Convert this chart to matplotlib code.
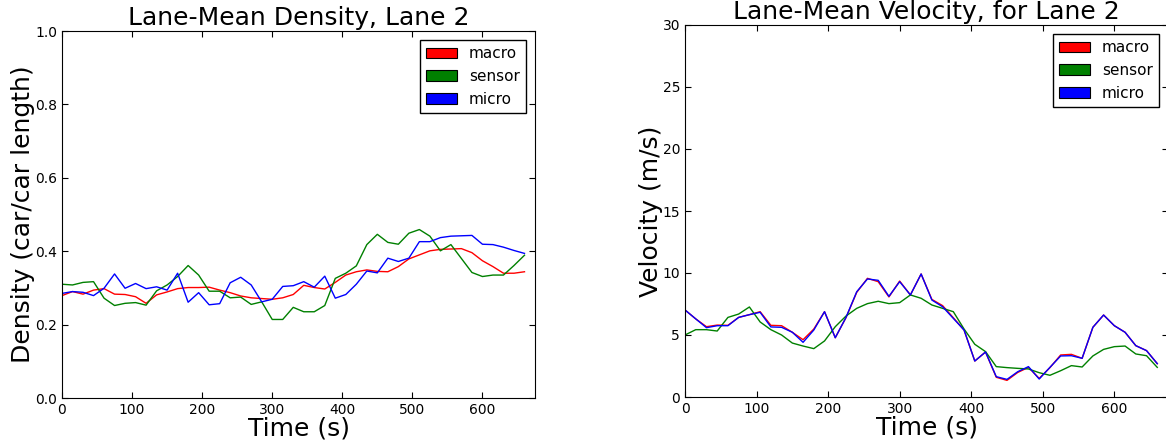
import numpy as np
import matplotlib
matplotlib.use('Agg')
import matplotlib.pyplot as plt
from matplotlib.patches import Patch

# Temps (s), mostres cada 15 s
temps = np.arange(0, 661, 15)

# Densitat mitjana del carril 2
dens_macro = [0.279, 0.290, 0.283, 0.294, 0.298, 0.283, 0.282, 0.276, 0.258, 0.281,
              0.289, 0.298, 0.301, 0.301, 0.302, 0.294, 0.287, 0.278, 0.273, 0.271,
              0.269, 0.273, 0.282, 0.307, 0.301, 0.297, 0.315, 0.335, 0.344, 0.349,
              0.345, 0.344, 0.358, 0.379, 0.390, 0.401, 0.405, 0.406, 0.407, 0.396,
              0.374, 0.358, 0.340, 0.340, 0.344]
dens_sensor = [0.310, 0.308, 0.315, 0.317, 0.272, 0.252, 0.258, 0.260, 0.253, 0.292,
               0.308, 0.331, 0.361, 0.335, 0.291, 0.291, 0.273, 0.275, 0.255, 0.262,
               0.214, 0.214, 0.247, 0.235, 0.235, 0.252, 0.326, 0.340, 0.360, 0.418,
               0.446, 0.424, 0.419, 0.449, 0.459, 0.441, 0.401, 0.418, 0.380, 0.342,
               0.331, 0.335, 0.335, 0.361, 0.389]
dens_micro = [0.285, 0.290, 0.288, 0.279, 0.299, 0.338, 0.299, 0.312, 0.298, 0.303,
              0.294, 0.340, 0.261, 0.287, 0.254, 0.257, 0.314, 0.329, 0.308, 0.262,
              0.269, 0.304, 0.306, 0.317, 0.302, 0.332, 0.272, 0.282, 0.310, 0.346,
              0.341, 0.381, 0.372, 0.381, 0.426, 0.426, 0.437, 0.441, 0.442, 0.443,
              0.419, 0.418, 0.411, 0.402, 0.394]

# Velocitat mitjana del carril 2
vel_macro = [7.02, 6.30, 5.67, 5.80, 5.78, 6.42, 6.64, 6.88, 5.78, 5.75,
             5.22, 4.62, 5.48, 6.88, 4.78, 6.40, 8.44, 9.57, 9.30, 8.07,
             9.35, 8.23, 9.92, 7.87, 7.37, 6.39, 5.40, 2.90, 3.63, 1.59,
             1.34, 1.98, 2.39, 1.50, 2.37, 3.39, 3.44, 3.12, 5.62, 6.61,
             5.75, 5.22, 4.14, 3.74, 2.69]
vel_sensor = [5.00, 5.43, 5.43, 5.32, 6.42, 6.69, 7.26, 6.05, 5.43, 5.00,
              4.35, 4.11, 3.90, 4.52, 5.67, 6.53, 7.15, 7.53, 7.72, 7.53,
              7.61, 8.23, 7.96, 7.42, 7.15, 6.88, 5.48, 4.25, 3.66, 2.45,
              2.37, 2.31, 2.26, 1.96, 1.75, 2.12, 2.53, 2.42, 3.31, 3.84,
              4.06, 4.11, 3.47, 3.33, 2.39]
vel_micro = [7.02, 6.30, 5.59, 5.75, 5.75, 6.42, 6.64, 6.83, 5.65, 5.62,
             5.22, 4.41, 5.40, 6.88, 4.78, 6.42, 8.49, 9.52, 9.41, 8.12,
             9.30, 8.23, 9.92, 7.82, 7.28, 6.34, 5.40, 2.90, 3.63, 1.64,
             1.42, 2.04, 2.45, 1.45, 2.39, 3.31, 3.33, 3.12, 5.62, 6.61,
             5.75, 5.22, 4.14, 3.74, 2.69]

noms = ['macro', 'sensor', 'micro']
colors = ['r', 'g', 'b']

fig = plt.figure(figsize=(11.66, 4.44), dpi=100)
W, H = 1166.0, 444.0
ax1 = fig.add_axes([62 / W, (H - 398) / H, 473 / W, 367 / H])
ax2 = fig.add_axes([685 / W, (H - 397) / H, 483 / W, 372 / H])


def dibuixa(ax, series, ymax, yticks, titol, ylabel):
    for s, c in zip(series, colors):
        ax.plot(temps, s, color=c, lw=1.0)
    ax.set_xlim(0, 675)
    ax.set_ylim(0, ymax)
    ax.set_xticks(range(0, 700, 100))
    ax.set_yticks(yticks)
    ax.tick_params(direction='in', top=True, right=True, labelsize=10, length=4)
    ax.set_title(titol, fontsize=18, pad=4)
    ax.set_xlabel('Time (s)', fontsize=18, labelpad=0)
    ax.set_ylabel(ylabel, fontsize=18, labelpad=0)
    handles = [Patch(facecolor=c, edgecolor='k', lw=0.8) for c in colors]
    ax.legend(handles, noms, loc='upper right', fontsize=11, fancybox=False,
              framealpha=1, edgecolor='k', handlelength=2.0, borderaxespad=0.6)


dibuixa(ax1, [dens_macro, dens_sensor, dens_micro], 1.0,
        [0.0, 0.2, 0.4, 0.6, 0.8, 1.0], 'Lane-Mean Density, Lane 2',
        'Density (car/car length)')
ax1.set_yticklabels(['0.0', '0.2', '0.4', '0.6', '0.8', '1.0'])
dibuixa(ax2, [vel_macro, vel_sensor, vel_micro], 30,
        range(0, 31, 5), 'Lane-Mean Velocity, for Lane 2', 'Velocity (m/s)')

fig.savefig('out.png', dpi=100)
